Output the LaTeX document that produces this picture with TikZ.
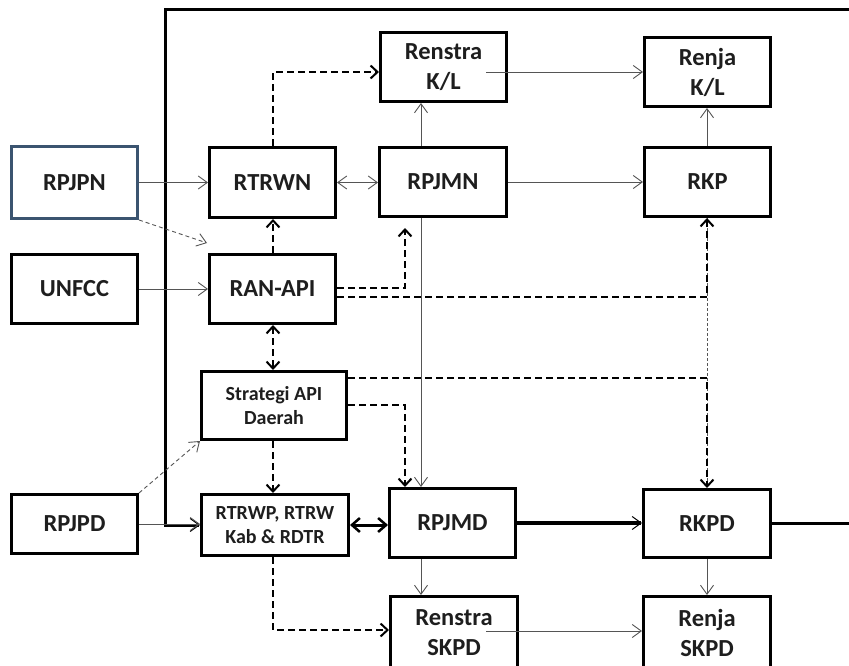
\documentclass[tikz,border=0pt]{standalone}
\usepackage{fontspec}
\setmainfont{Carlito}
\usetikzlibrary{arrows.meta}
\definecolor{bluebox}{RGB}{59,84,112}
\definecolor{txt}{RGB}{30,30,30}
\definecolor{thinline}{RGB}{85,85,85}
\begin{document}
\begin{tikzpicture}[x=1pt,y=-1pt,
  box/.style={draw=black, line width=3pt, fill=white, text=txt, align=center, inner sep=0pt,
    font=\fontsize{24.5}{30}\selectfont\bfseries},
  smallbox/.style={box, font=\fontsize{20}{24}\selectfont\bfseries},
  thin arr/.style={draw=thinline, line width=0.9pt, -{Straight Barb[length=9pt,width=13pt]}},
  thin arrs/.style={draw=thinline, line width=0.9pt, {Straight Barb[length=9pt,width=13pt]}-{Straight Barb[length=9pt,width=13pt]}},
  thin dash arr/.style={draw=thinline, line width=0.9pt, dash pattern=on 4pt off 3pt, -{Straight Barb[length=9pt,width=13pt]}},
  dash arr/.style={draw=black, line width=2.2pt, dash pattern=on 7pt off 4pt, -{Straight Barb[length=7pt,width=13pt,line width=2pt]}},
  dash arrs/.style={draw=black, line width=2.2pt, dash pattern=on 7pt off 4pt, {Straight Barb[length=7pt,width=13pt,line width=2pt]}-{Straight Barb[length=7pt,width=13pt,line width=2pt]}},
  heavy arrs/.style={draw=black, line width=3pt, {Straight Barb[length=8pt,width=14pt,line width=2.5pt]}-{Straight Barb[length=8pt,width=14pt,line width=2.5pt]}},
  heavy arr/.style={draw=black, line width=4pt, -{Straight Barb[length=9pt,width=13pt,line width=1pt]}},
  frame/.style={draw=black, line width=3pt, -{Straight Barb[length=9pt,width=13pt,line width=1pt]}}
]
\fill[white] (0,0) rectangle (849,666);
\useasboundingbox (0,0) rectangle (849,666);
\clip (0,0) rectangle (849,666);

% column and row helper coordinates
\coordinate (cA) at (273,0);
\coordinate (cB) at (421,0);
\coordinate (cC) at (707,0);
\coordinate (cD) at (405,0);
\coordinate (rkl) at (486,72);
\coordinate (pA) at (207,243);
\coordinate (pB) at (405,228);
\coordinate (r1) at (0,288);
\coordinate (r2) at (0,297);
\coordinate (s1) at (0,378);
\coordinate (s2) at (0,405);
\coordinate (rs) at (486,631);
\coordinate (rs2) at (0,630);
\coordinate (fr) at (870,0);

% nodes
\node[box, draw=bluebox, minimum width=126, minimum height=72] (rpjpn) at (74.5,182.5) {RPJPN};
\node[box, minimum width=126, minimum height=70] (rtrwn) at (272.5,182.5) {RTRWN};
\node[box, minimum width=126, minimum height=69] (renstrakl) at (443.5,67) {Renstra\\K/L};
\node[box, minimum width=126, minimum height=69] (renjakl) at (707.5,72) {Renja\\K/L};
\node[box, minimum width=127, minimum height=69] (rpjmn) at (443,182) {RPJMN};
\node[box, minimum width=126, minimum height=69] (rkp) at (707.5,182) {RKP};
\node[box, minimum width=126, minimum height=69] (unfcc) at (74.5,289) {UNFCC};
\node[box, minimum width=126, minimum height=69] (ranapi) at (272.5,289) {RAN-API};
\node[smallbox, minimum width=145, minimum height=68] (strat) at (274,405.5) {Strategi API\\Daerah};
\node[box, minimum width=126, minimum height=59] (rpjpd) at (74.5,524) {RPJPD};
\node[smallbox, minimum width=147, minimum height=61] (rtrwp) at (275,525) {RTRWP, RTRW\\Kab \& RDTR};
\node[box, minimum width=126, minimum height=69] (rpjmd) at (452.5,523) {RPJMD};
\node[box, minimum width=127, minimum height=68] (rkpd) at (707,523.5) {RKPD};
\node[box, minimum width=127, minimum height=72] (renstraskpd) at (454,632.5) {Renstra\\SKPD};
\node[box, minimum width=127, minimum height=72] (renjaskpd) at (707,632.5) {Renja\\SKPD};

% frame loop
\draw[frame] (rkpd.east) -- (rkpd.east -| fr) -- (fr |- 0,10) -- (165,10) -- (165,525) -- (rtrwp.west);

% thin solid connectors
\draw[thin arr] (rpjpn.east) -- (rpjpn.east -| rtrwn.west);
\draw[thin arr] (unfcc.east) -- (ranapi.west);
\draw[thin arrs] (rtrwn.east) -- (rtrwn.east -| rpjmn.west);
\draw[thin arr] (rpjmn.east) -- (rpjmn.east -| rkp.west);
\draw[thin arr] (rkl) -- (rkl -| renjakl.west);
\draw[thin arr] (rpjmn.north -| cB) -- (renstrakl.south -| cB);
\draw[thin arr] (rkp.north -| cC) -- (renjakl.south -| cC);
\draw[thin arr] (rpjmn.south -| cB) -- (rpjmd.north -| cB);
\draw[thin arr] (rpjpd.east) -- (rpjpd.east -| rtrwp.west);
\draw[thin arr] (rpjmd.south -| cB) -- (renstraskpd.north -| cB);
\draw[thin arr] (rkpd.south -| cC) -- (renjaskpd.north -| cC);
\draw[thin arr] (rs) -- (rs -| renjaskpd.west);

% thin dashed
\draw[thin dash arr] (rpjpn.south east) -- (pA);
\draw[thin dash arr] (rpjpd.north east) -- (strat.south west);
\draw[draw=thinline, line width=0.9pt, dash pattern=on 3pt off 2pt] (rkp.south -| cC) -- (rkpd.north -| cC);

% thick dashed
\draw[dash arr] (rtrwn.north -| cA) |- (rkl -| renstrakl.west);
\draw[dash arr] (ranapi.north -| cA) -- (rtrwn.south -| cA);
\draw[dash arr] (ranapi.east |- r1) -| (pB);
\draw[dash arr] (ranapi.east |- r2) -| (rkp.south -| cC);
\draw[dash arr] (strat.east |- s1) -| (rkpd.north -| cC);
\draw[dash arr] (strat.east |- s2) -| (rpjmd.north -| cD);
\draw[dash arrs] (ranapi.south -| cA) -- (strat.north -| cA);
\draw[dash arr] (strat.south -| cA) -- (rtrwp.north -| cA);
\draw[dash arr] (rtrwp.south -| cA) |- (rs2 -| renstraskpd.west);

% heavy
\draw[heavy arrs] (rtrwp.east) -- (rtrwp.east -| rpjmd.west);
\draw[heavy arr] (rpjmd.east) -- (rpjmd.east -| rkpd.west);
\end{tikzpicture}
\end{document}
